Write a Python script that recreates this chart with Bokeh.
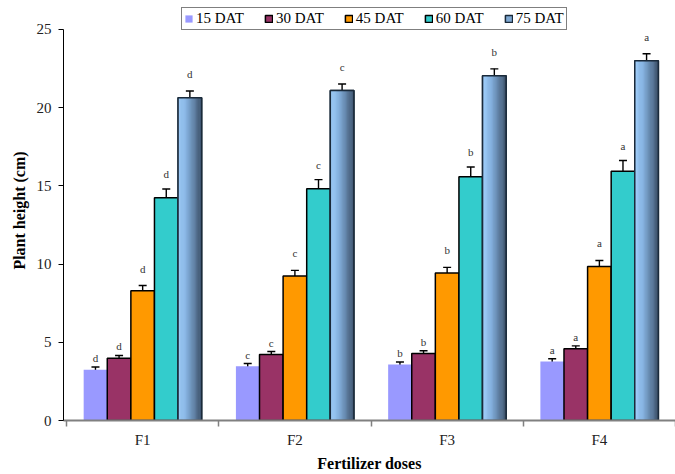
import numpy as np
from bokeh.plotting import figure
from bokeh.models import (Range1d, FixedTicker, Whisker, TeeHead, ColumnDataSource,
                          Legend, LegendItem)
from bokeh.core.properties import value
from bokeh.embed import file_html
from bokeh.resources import INLINE

# ---------------- data ----------------
doses = ["F1", "F2", "F3", "F4"]
series = ["15 DAT", "30 DAT", "45 DAT", "60 DAT", "75 DAT"]
h15 = [3.25, 3.47, 3.58, 3.77]
h30 = [3.98, 4.22, 4.28, 4.58]
h45 = [8.29, 9.23, 9.43, 9.84]
h60 = [14.24, 14.81, 15.58, 15.94]
h75 = [20.63, 21.10, 22.04, 23.00]
e15 = [0.17, 0.17, 0.16, 0.18]
e30 = [0.18, 0.19, 0.18, 0.19]
e45 = [0.34, 0.37, 0.36, 0.39]
e60 = [0.56, 0.59, 0.63, 0.68]
e75 = [0.43, 0.41, 0.44, 0.45]
letters = ["d", "c", "b", "a"]
y_ticks = [0, 5, 10, 15, 20, 25]

heights = [h15, h30, h45, h60, h75]
errors = [e15, e30, e45, e60, e75]

# ---------------- style ----------------
FONT = "Liberation Serif"
colors = ["#9999FF", "#993366", "#FF9900", "#33CCCC", "#7FA8D2"]
outline = [None, "black", "black", "black", "#1a2a3a"]
letter_gap = [9, 9, 17, 15, 17]
bw = 0.155
offsets = [(j - 2) * bw for j in range(5)]

# frame extends above the top tick to leave room for the legend
p = figure(width=675, height=474, x_range=Range1d(-0.02, 4), y_range=Range1d(0, 26.85),
           output_backend="svg", toolbar_location=None,
           min_border_left=63, min_border_right=0, min_border_top=0, min_border_bottom=54)
p.xgrid.visible = False
p.ygrid.visible = False
p.outline_line_color = None
p.background_fill_color = "white"
p.border_fill_color = "white"

renderers = []
for j in range(5):
    xs = [i + 0.5 + offsets[j] for i in range(len(doses))]
    vals = heights[j]
    r = p.vbar(x=xs, top=vals, width=bw, bottom=0, fill_color=colors[j],
               line_color=outline[j], line_width=1.5)
    renderers.append(r)
    if j == 4:
        N = 20
        stops_t = [0.0, 0.35, 1.0]
        stops_c = [(162, 208, 252), (135, 180, 226), (58, 78, 102)]
        sw = bw / N
        for k in range(N):
            t = (k + 0.5) / N
            c = tuple(int(round(np.interp(t, stops_t, [s[m] for s in stops_c]))) for m in range(3))
            col = "#%02x%02x%02x" % c
            sx = [x - bw / 2 + (k + 0.5) * sw for x in xs]
            p.vbar(x=sx, top=vals, width=sw * 1.2, bottom=0, fill_color=col, line_color=None)
        p.vbar(x=xs, top=vals, width=bw, bottom=0, fill_color=None,
               line_color=outline[j], line_width=1.5)

    errs = errors[j]
    src = ColumnDataSource(dict(x=xs, upper=[v + e for v, e in zip(vals, errs)],
                                lower=[v - e for v, e in zip(vals, errs)]))
    wk = Whisker(base="x", upper="upper", lower="lower", source=src, dimension="height",
                 line_color="black", line_width=1.4,
                 upper_head=TeeHead(size=8, line_color="black", line_width=1.4),
                 lower_head=TeeHead(size=8, line_color="black", line_width=1.4))
    p.add_layout(wk)
    p.text(x=xs, y=[v + e for v, e in zip(vals, errs)], text=letters,
           text_align="center", text_baseline="middle", y_offset=-letter_gap[j],
           text_font=value(FONT), text_font_size="11px", text_color="#333333")

# ---------------- axes ----------------
xa = p.xaxis[0]
xa.ticker = FixedTicker(ticks=[i + 0.5 for i in range(len(doses))],
                        minor_ticks=[float(i) for i in range(len(doses) + 1)])
xa.major_label_overrides = {i + 0.5: d for i, d in enumerate(doses)}
xa.axis_line_color = "#808080"
xa.axis_line_width = 2
xa.major_tick_out = 0
xa.major_tick_in = 0
xa.minor_tick_out = 6
xa.minor_tick_in = 0
xa.minor_tick_line_color = "#808080"
xa.minor_tick_line_width = 1.5
xa.major_label_text_font = FONT
xa.major_label_text_font_size = "15px"
xa.major_label_text_color = "#222222"
xa.major_label_standoff = 5
xa.axis_label = "Fertilizer doses"
xa.axis_label_text_font = FONT
xa.axis_label_text_font_style = "bold"
xa.axis_label_text_font_size = "16px"
xa.axis_label_text_color = "black"
xa.axis_label_standoff = 4

ya = p.yaxis[0]
ya.ticker = FixedTicker(ticks=y_ticks, minor_ticks=[])
ya.bounds = (y_ticks[0], y_ticks[-1])
ya.axis_line_color = "black"
ya.axis_line_width = 1
ya.major_tick_out = 5
ya.major_tick_in = 0
ya.minor_tick_out = 0
ya.minor_tick_in = 0
ya.major_tick_line_color = "black"
ya.major_label_text_font = FONT
ya.major_label_text_font_size = "15px"
ya.major_label_text_color = "#222222"
ya.major_label_standoff = 7
ya.axis_label = "Plant height (cm)"
ya.axis_label_text_font = FONT
ya.axis_label_text_font_style = "bold"
ya.axis_label_text_font_size = "16px"
ya.axis_label_text_color = "black"
ya.axis_label_standoff = 6

# ---------------- legend ----------------
legend = Legend(items=[LegendItem(label=s, renderers=[r]) for s, r in zip(series, renderers)],
                orientation="horizontal", location=(118, 390),
                border_line_color="black", border_line_width=1,
                background_fill_color="white", background_fill_alpha=1,
                padding=2, spacing=20, margin=0,
                glyph_width=9, glyph_height=9, label_standoff=3,
                label_text_font=FONT, label_text_font_size="15px",
                label_height=15, label_text_color="black")
p.add_layout(legend, "center")

open("out.html", "w").write(file_html(p, INLINE))
